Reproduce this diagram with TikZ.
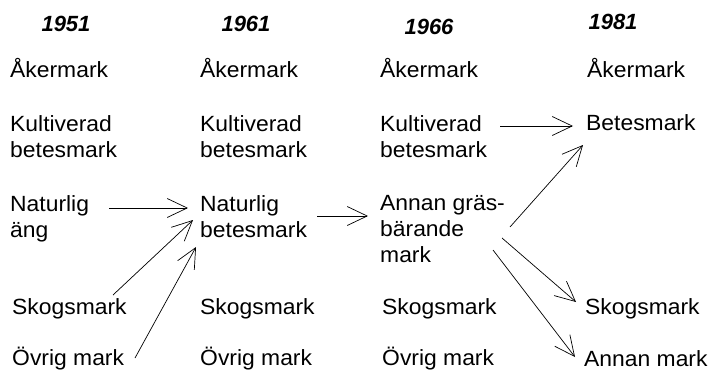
\documentclass[tikz,border=0pt]{standalone}
\usepackage{fontspec}
\setmainfont{Liberation Sans}
\newfontfamily\lblfont[FakeStretch=1.04]{Liberation Sans}
\usetikzlibrary{arrows.meta,calc}
\begin{document}
\begin{tikzpicture}[x=1pt,y=-1pt,
  lbl/.style={anchor=base west, inner sep=0pt, align=left, font=\lblfont\fontsize{22}{26}\selectfont},
  yr/.style={anchor=base, inner sep=0pt, font=\fontsize{22}{26}\selectfont\bfseries\itshape},
  arr/.style={-{Straight Barb[length=20pt,width=19pt]}, line width=0.7pt}]
\useasboundingbox (0,0) rectangle (711,372);
% years
\node[yr] (y1) at (66,31) {1951};
\node[yr] (y2) at (246,31) {1961};
\node[yr] (y3) at (429,34) {1966};
\node[yr] (y4) at (613,29) {1981};
% row: Åkermark
\node[lbl] (ak1) at (10,77) {Åkermark};
\node[lbl] (ak2) at (200,77) {Åkermark};
\node[lbl] (ak3) at (380,77) {Åkermark};
\node[lbl] (ak4) at (587,77) {Åkermark};
% row: Kultiverad (base = last line)
\node[lbl] (ku1) at (10,157) {Kultiverad\\betesmark};
\node[lbl] (ku2) at (200,157) {Kultiverad\\betesmark};
\node[lbl] (ku3) at (380,157) {Kultiverad\\betesmark};
\node[lbl] (be4) at (586,130) {Betesmark};
% row: Naturlig
\node[lbl] (na1) at (10,237) {Naturlig\\äng};
\node[lbl] (na2) at (200,237) {Naturlig\\betesmark};
\node[lbl] (an3) at (380,262) {Annan gräs-\\bärande\\mark};
% row: Skogsmark
\node[lbl] (sk1) at (12,314) {Skogsmark};
\node[lbl] (sk2) at (200,314) {Skogsmark};
\node[lbl] (sk3) at (382,314) {Skogsmark};
\node[lbl] (sk4) at (585,314) {Skogsmark};
% row: Övrig
\node[lbl] (ov1) at (12,365) {Övrig mark};
\node[lbl] (ov2) at (200,365) {Övrig mark};
\node[lbl] (ov3) at (382,365) {Övrig mark};
\node[lbl] (am4) at (584,366) {Annan mark};
% arrows
\draw[arr] ($(ku3.base west)+(120,-31)$) -- ($(be4.base west)+(-13,-4)$);
\draw[arr] ($(na1.base west)+(99,-29)$) -- ($(na2.base west)+(-12,-29)$);
\draw[arr] ($(sk1.base west)+(101,-19)$) -- ($(na2.base west)+(-7,-17)$);
\draw[arr] ($(ov1.base west)+(123,-7)$) -- ($(na2.base west)+(-4,10)$);
\draw[arr] ($(na2.base west)+(117,-21)$) -- ($(an3.base west)+(-12,-46)$);
\draw[arr] ($(an3.base west)+(130,-35)$) -- ($(be4.base west)+(-3,15)$);
\draw[arr] ($(an3.base west)+(122,-24)$) -- ($(sk4.base west)+(-9,-12)$);
\draw[arr] ($(an3.base west)+(113,-12)$) -- ($(am4.base west)+(-9,-9)$);
\end{tikzpicture}
\end{document}
